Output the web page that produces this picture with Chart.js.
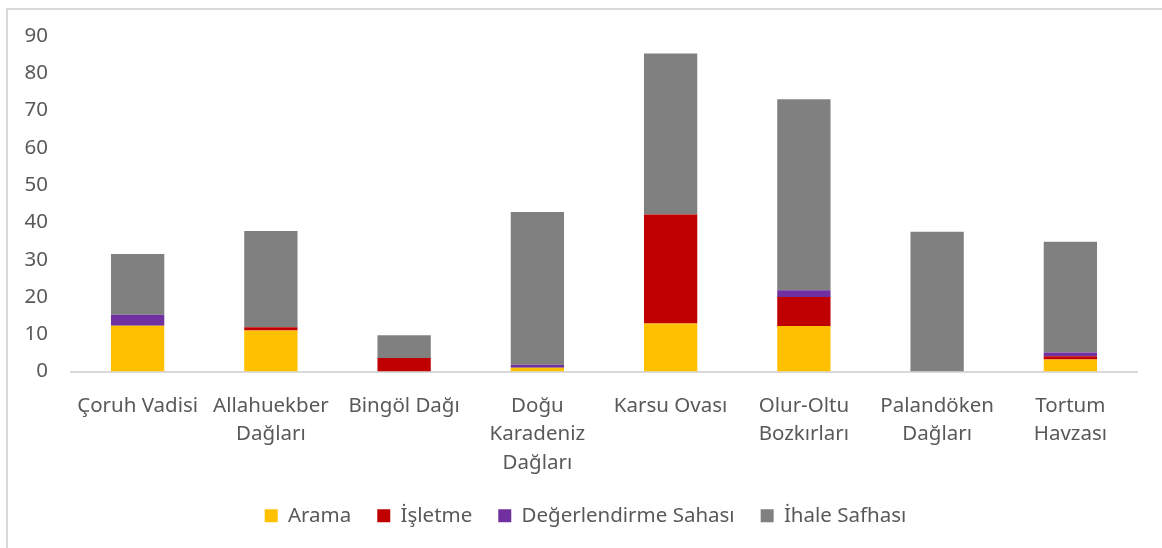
<!DOCTYPE html>
<html lang="tr">
<head>
    <meta charset="UTF-8">
    <title>Sahalar</title>
    <style>
        body {
            margin: 0;
            background: #ffffff;
        }
        .box {
            position: relative;
            width: 1162px;
            height: 548px;
            overflow: hidden;
        }
        .frame {
            position: absolute;
            left: 6px;
            top: 8px;
            width: 1200px;
            height: 600px;
            border-left: 2px solid #d9d9d9;
            border-top: 2px solid #d9d9d9;
            pointer-events: none;
        }
        canvas {
            position: absolute;
            left: 0;
            top: 0;
        }
    </style>
</head>
<body>
    <div class="box">
        <canvas id="chart" width="1162" height="548"></canvas>
        <div class="frame"></div>
    </div>

    <script src="https://cdn.jsdelivr.net/npm/chart.js"></script>
    <script>
        const categories = [
            'Çoruh Vadisi',
            ['Allahuekber', 'Dağları'],
            'Bingöl Dağı',
            ['Doğu', 'Karadeniz', 'Dağları'],
            'Karsu Ovası',
            ['Olur-Oltu', 'Bozkırları'],
            ['Palandöken', 'Dağları'],
            ['Tortum', 'Havzası']
        ];
        const arama = [12.3, 11.0, 0, 1.0, 12.9, 12.2, 0, 3.2];
        const isletme = [0, 0.9, 3.6, 0, 29.2, 7.8, 0, 0.9];
        const degerlendirme = [2.9, 0, 0, 0.8, 0, 1.8, 0, 1.0];
        const ihale = [16.3, 25.8, 6.1, 41.0, 43.2, 51.2, 37.5, 29.7];
        const yTicks = [0, 10, 20, 30, 40, 50, 60, 70, 80, 90];

        const font = "'Noto Sans', sans-serif";
        const fontSize = 20.5;
        const textColor = '#595959';

        // excel puts the legend a bit right of the canvas center
        const legendShift = {
            id: 'legendShift',
            afterLayout(chart) {
                chart.legend.left += 17;
                chart.legend.right += 17;
            }
        };

        const ctx = document.getElementById('chart').getContext('2d');
        new Chart(ctx, {
            type: 'bar',
            data: {
                labels: categories,
                datasets: [
                    { label: 'Arama', data: arama, backgroundColor: '#ffc000' },
                    { label: 'İşletme', data: isletme, backgroundColor: '#c00000' },
                    { label: 'Değerlendirme Sahası', data: degerlendirme, backgroundColor: '#7030a0' },
                    { label: 'İhale Safhası', data: ihale, backgroundColor: '#808080' }
                ]
            },
            options: {
                responsive: false,
                animation: false,
                layout: {
                    padding: { top: 36, left: 0, right: 25, bottom: 12 }
                },
                datasets: {
                    bar: {
                        categoryPercentage: 1,
                        barPercentage: 0.4,
                        borderWidth: 0
                    }
                },
                scales: {
                    x: {
                        stacked: true,
                        grid: { display: false, drawTicks: false },
                        border: { display: true, color: '#d9d9d9', width: 2 },
                        ticks: {
                            color: textColor,
                            font: { family: font, size: fontSize, lineHeight: 1.4 },
                            padding: 20,
                            maxRotation: 0,
                            autoSkip: false
                        },
                        afterFit: (scale) => { scale.height = 108; }
                    },
                    y: {
                        stacked: true,
                        min: 0,
                        max: 90,
                        afterBuildTicks: (scale) => {
                            scale.ticks = yTicks.map(v => ({ value: v }));
                        },
                        grid: { display: false, drawTicks: false },
                        border: { display: false },
                        ticks: {
                            color: textColor,
                            font: { family: font, size: fontSize },
                            padding: 23
                        },
                        afterFit: (scale) => { scale.width = 71; }
                    }
                },
                plugins: {
                    legend: {
                        position: 'bottom',
                        labels: {
                            color: textColor,
                            font: { family: font, size: fontSize },
                            boxWidth: 13,
                            boxHeight: 13,
                            padding: 26
                        }
                    },
                    tooltip: { enabled: false }
                }
            },
            plugins: [legendShift]
        });
    </script>
</body>
</html>
